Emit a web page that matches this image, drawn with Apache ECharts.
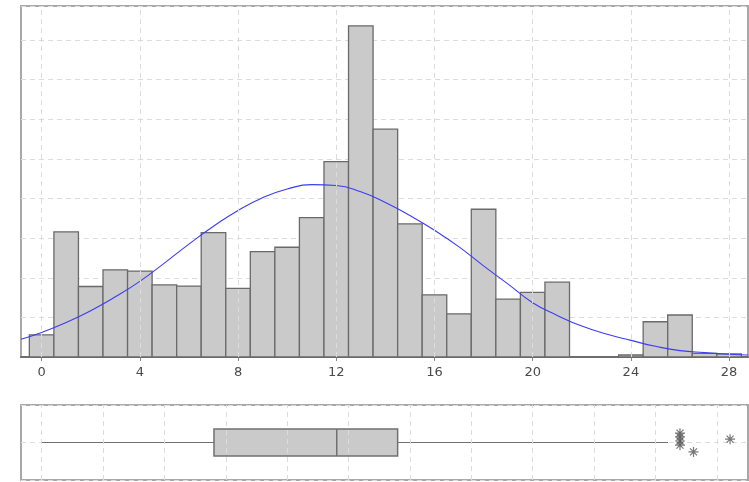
<!DOCTYPE html>
<html>
<head>
<meta charset="utf-8">
<script src="https://cdn.jsdelivr.net/npm/echarts@6/dist/echarts.min.js"></script>
<style>
  html, body { margin: 0; padding: 0; background: #fff; }
  #chart { width: 749px; height: 482px; }
</style>
</head>
<body>
<div id="chart"></div>
<script>
// histogram bins (centre of each unit-wide bin) and bar heights
const binCenters = [0, 1, 2, 3, 4, 5, 6, 7, 8, 9, 10, 11, 12, 13, 14, 15, 16, 17, 18, 19, 20, 21, 22, 23, 24, 25, 26, 27, 28];
const binHeights = [0.56, 3.16, 1.78, 2.20, 2.17, 1.82, 1.79, 3.14, 1.73, 2.66, 2.77, 3.52, 4.93, 8.36, 5.75, 3.36, 1.57, 1.09, 3.73, 1.46, 1.63, 1.89, 0, 0, 0.05, 0.89, 1.06, 0.09, 0.08];

// fitted normal curve
const curveX = [-0.84, 0, 1, 2, 3, 4, 5, 6, 7, 8, 9, 10, 11, 12, 13, 14, 15, 16, 17, 18, 19, 20, 21, 22, 23, 24, 25, 26, 27, 28, 28.77];
const curveY = [0.45, 0.62, 0.87, 1.17, 1.52, 1.91, 2.37, 2.85, 3.30, 3.70, 4.02, 4.24, 4.35, 4.33, 4.17, 3.90, 3.57, 3.20, 2.78, 2.30, 1.84, 1.37, 1.05, 0.78, 0.58, 0.42, 0.27, 0.16, 0.11, 0.07, 0.05];

// box plot: min, Q1, median, Q3, upper whisker
const boxStats = [0, 7.02, 12.02, 14.5, 25.51];
const outlierX = [26.0, 26.0, 26.0, 26.0, 26.55, 28.04];
const outlierJitter = [0.25, 0.15, 0.04, -0.07, -0.25, 0.09];

// axis ticks
const xTicks = [0, 4, 8, 12, 16, 20, 24, 28];
const boxGridTicks = [0, 2.5, 5, 7.5, 10, 12.5, 15, 17.5, 20, 22.5, 25, 27.5];
const xMin = -0.84;
const xMax = 28.77;

const chart = echarts.init(document.getElementById("chart"));

const gridLine = { lineStyle: { color: "#dcdcdc", type: [5, 4], width: 1 } };

const option = {
  animation: false,
  grid: [
    { left: 21, top: 6, right: 1, height: 351, show: true, borderColor: "#a8a8a8", borderWidth: 2, backgroundColor: "#fff" },
    { left: 21, top: 405, right: 1, height: 75, show: true, borderColor: "#a8a8a8", borderWidth: 2, backgroundColor: "#fff" },
  ],
  xAxis: [
    {
      type: "value",
      gridIndex: 0,
      min: xMin,
      max: xMax,
      axisLine: { show: true, onZero: false, lineStyle: { color: "#6e6e6e", width: 2 } },
      axisTick: { show: true, length: 4, lineStyle: { color: "#888" }, customValues: xTicks },
      axisLabel: {
        color: "#4a4a4a",
        fontFamily: "DejaVu Sans",
        fontSize: 13,
        margin: 9,
        customValues: xTicks,
      },
      splitLine: { show: false },
    },
    {
      type: "value",
      gridIndex: 1,
      min: xMin,
      max: xMax,
      axisLine: { show: false },
      axisTick: { show: false },
      axisLabel: { show: false },
      splitLine: { show: false },
    },
  ],
  yAxis: [
    {
      type: "value",
      gridIndex: 0,
      min: 0,
      max: 8.86,
      interval: 1,
      axisLine: { show: false },
      axisTick: { show: false },
      axisLabel: { show: false },
      splitLine: gridLine,
    },
    {
      type: "value",
      gridIndex: 1,
      min: -1,
      max: 1,
      interval: 1,
      axisLine: { show: false },
      axisTick: { show: false },
      axisLabel: { show: false },
      splitLine: gridLine,
    },
  ],
  series: [
    {
      // vertical grid lines of the histogram
      type: "line",
      xAxisIndex: 0,
      yAxisIndex: 0,
      data: [],
      silent: true,
      markLine: {
        symbol: "none",
        label: { show: false },
        lineStyle: { color: "#dcdcdc", type: [5, 4], width: 1 },
        data: xTicks.map((v) => ({ xAxis: v })),
      },
    },
    {
      type: "line",
      xAxisIndex: 1,
      yAxisIndex: 1,
      data: [],
      silent: true,
      markLine: {
        symbol: "none",
        label: { show: false },
        lineStyle: { color: "#dcdcdc", type: [5, 4], width: 1 },
        data: boxGridTicks.map((v) => ({ xAxis: v })),
      },
    },
    {
      type: "custom",
      xAxisIndex: 0,
      yAxisIndex: 0,
      data: binCenters.map((c, i) => [c, binHeights[i]]),
      renderItem: (params, api) => {
        const c = api.value(0);
        const h = api.value(1);
        if (h <= 0) return null;
        const p0 = api.coord([c - 0.5, h]);
        const p1 = api.coord([c + 0.5, 0]);
        return {
          type: "rect",
          shape: { x: p0[0], y: p0[1], width: p1[0] - p0[0], height: p1[1] - p0[1] },
          style: { fill: "#cacaca", stroke: "#6a6a6a", lineWidth: 1.3 },
        };
      },
      z: 3,
    },
    {
      type: "line",
      xAxisIndex: 0,
      yAxisIndex: 0,
      data: curveX.map((x, i) => [x, curveY[i]]),
      smooth: true,
      symbol: "none",
      lineStyle: { color: "#3c3cf5", width: 1.1 },
      z: 4,
    },
    {
      type: "custom",
      xAxisIndex: 1,
      yAxisIndex: 1,
      data: [boxStats],
      renderItem: (params, api) => {
        const lo = api.coord([api.value(0), 0]);
        const q1 = api.coord([api.value(1), 0]);
        const md = api.coord([api.value(2), 0]);
        const q3 = api.coord([api.value(3), 0]);
        const hi = api.coord([api.value(4), 0]);
        const cy = lo[1];
        const half = 13.5;
        const lineStyle = { stroke: "#707070", lineWidth: 1 };
        return {
          type: "group",
          children: [
            { type: "line", shape: { x1: lo[0], y1: cy, x2: q1[0], y2: cy }, style: lineStyle },
            { type: "line", shape: { x1: q3[0], y1: cy, x2: hi[0], y2: cy }, style: lineStyle },
            {
              type: "rect",
              shape: { x: q1[0], y: cy - half, width: q3[0] - q1[0], height: half * 2 },
              style: { fill: "#cacaca", stroke: "#707070", lineWidth: 1.5 },
            },
            { type: "line", shape: { x1: md[0], y1: cy - half, x2: md[0], y2: cy + half }, style: { stroke: "#707070", lineWidth: 1.5 } },
          ],
        };
      },
      z: 3,
    },
    {
      type: "scatter",
      xAxisIndex: 1,
      yAxisIndex: 1,
      data: outlierX.map((x, i) => [x, outlierJitter[i]]),
      symbol: "path://M0,5L10,5M1.5,1.5L8.5,8.5M1.5,8.5L8.5,1.5M5,0L5,10",
      symbolSize: 10,
      itemStyle: { color: "rgba(0,0,0,0)", borderColor: "#555", borderWidth: 1.2 },
      z: 4,
    },
  ],
};

chart.setOption(option);
</script>
</body>
</html>
